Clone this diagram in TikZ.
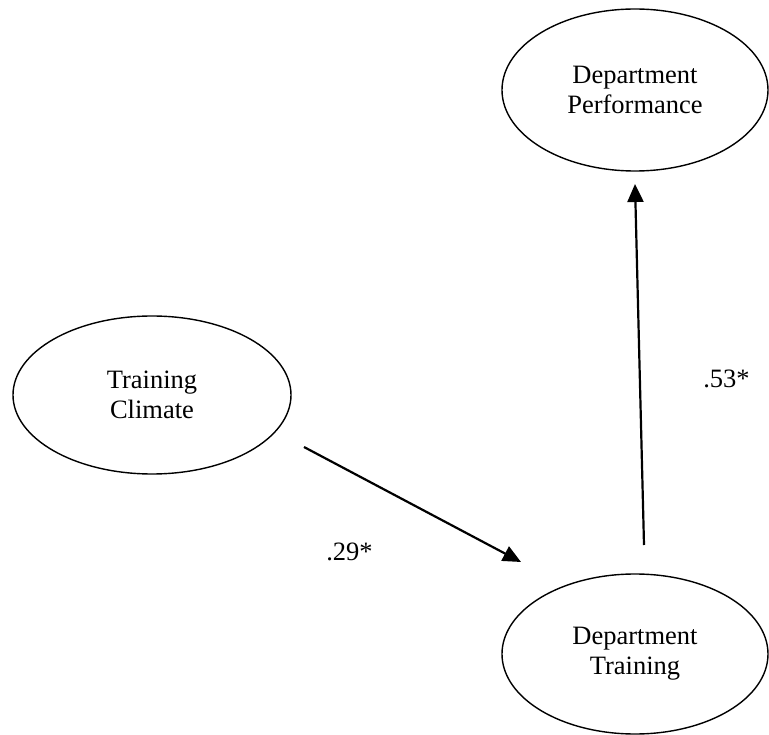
\documentclass[tikz,border=0pt]{standalone}
\usepackage{fontspec}
\setmainfont{Liberation Serif}
\usetikzlibrary{shapes.geometric,arrows.meta}
\tikzset{
  latent/.style={ellipse, draw=black, line width=1.4pt, inner sep=0pt, align=center,
    font=\fontsize{26.5}{30}\selectfont},
  path/.style={line width=2.2pt, -{Triangle[length=18pt,width=16pt]}},
  coef/.style={anchor=base, inner sep=0pt, font=\fontsize{26.5}{30}\selectfont}
}
\begin{document}
\begin{tikzpicture}[x=1pt,y=-1pt]
\useasboundingbox (0,0) rectangle (769,735);
\node[latent, minimum width=266pt, minimum height=162pt] (perf) at (635,90) {Department\\Performance};
\node[latent, minimum width=266pt, minimum height=160pt] (dtrain) at (635,654) {Department\\Training};
\node[latent, minimum width=278pt, minimum height=158pt] (climate) at (152,395) {Training\\Climate};
\coordinate (a1s) at (304,447);
\coordinate (a1e) at (521,562);
\coordinate (a2s) at (644,545);
\coordinate (a2e) at (635,184);
\draw[path] (a1s) -- (a1e);
\draw[path] (a2s) -- (a2e);
\node[coef] (c1) at (349.5,560) {.29*};
\node[coef] (c2) at (726.5,388) {.53*};
\end{tikzpicture}
\end{document}
